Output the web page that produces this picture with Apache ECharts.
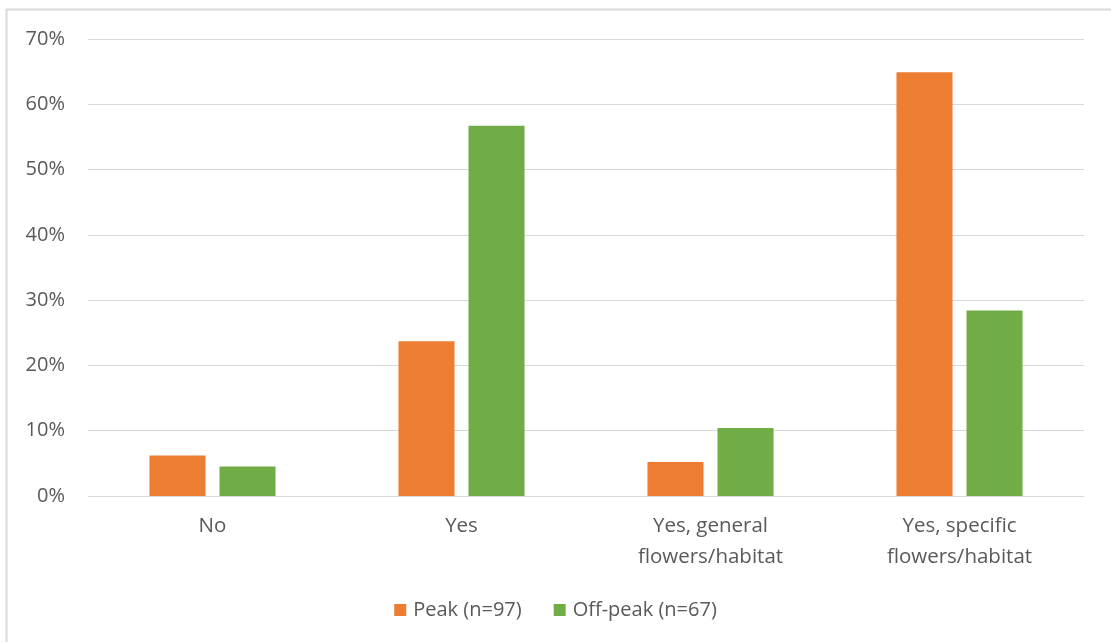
<!DOCTYPE html>
<html>
<head>
<meta charset="utf-8">
<script src="https://cdn.jsdelivr.net/npm/echarts@6/dist/echarts.min.js"></script>
<style>
  html, body { margin: 0; padding: 0; background: #fff; }
  #chart { width: 1111px; height: 642px; }
</style>
</head>
<body>
<div id="chart"></div>
<script>
// Survey responses by season (share of respondents)
const categories = ['No', 'Yes', 'Yes, general\nflowers/habitat', 'Yes, specific\nflowers/habitat'];
const peakValues = [6.2, 23.7, 5.2, 64.9];
const offPeakValues = [4.5, 56.7, 10.4, 28.4];
const seriesNames = ['Peak (n=97)', 'Off-peak (n=67)'];

const textColor = '#595959';
const gridColor = '#d9d9d9';
const fontFamily = 'Open Sans, Lato, sans-serif';

const chart = echarts.init(document.getElementById('chart'));
chart.setOption({
  animation: false,
  textStyle: { fontFamily: fontFamily },
  graphic: [{
    type: 'rect',
    shape: { x: 6.5, y: 9.5, width: 1120, height: 650 },
    style: { fill: 'none', stroke: gridColor, lineWidth: 2 },
    silent: true
  }],
  grid: { left: 88, right: 27, top: 39, bottom: 146 },
  legend: {
    data: seriesNames,
    bottom: 17,
    left: 'center',
    itemWidth: 12,
    itemHeight: 12,
    itemGap: 32,
    icon: 'rect',
    textStyle: { color: textColor, fontSize: 20, fontFamily: fontFamily, padding: [0, 0, 0, 2] }
  },
  xAxis: {
    type: 'category',
    data: categories,
    axisLine: { lineStyle: { color: gridColor, width: 1 } },
    axisTick: { show: false },
    axisLabel: {
      color: textColor,
      fontSize: 20.5,
      lineHeight: 31,
      margin: 15,
      interval: 0
    }
  },
  yAxis: {
    type: 'value',
    min: 0,
    max: 70,
    interval: 10,
    axisLine: { show: false },
    axisTick: { show: false },
    axisLabel: {
      color: textColor,
      fontSize: 20,
      margin: 23,
      formatter: v => v + '%'
    },
    splitLine: { lineStyle: { color: gridColor, width: 1 } }
  },
  series: [
    {
      name: seriesNames[0],
      type: 'bar',
      data: peakValues,
      barWidth: '22.5%',
      barGap: '25%',
      itemStyle: { color: '#ed7d31' }
    },
    {
      name: seriesNames[1],
      type: 'bar',
      data: offPeakValues,
      barWidth: '22.5%',
      barGap: '25%',
      itemStyle: { color: '#70ad47' }
    }
  ]
});
</script>
</body>
</html>
